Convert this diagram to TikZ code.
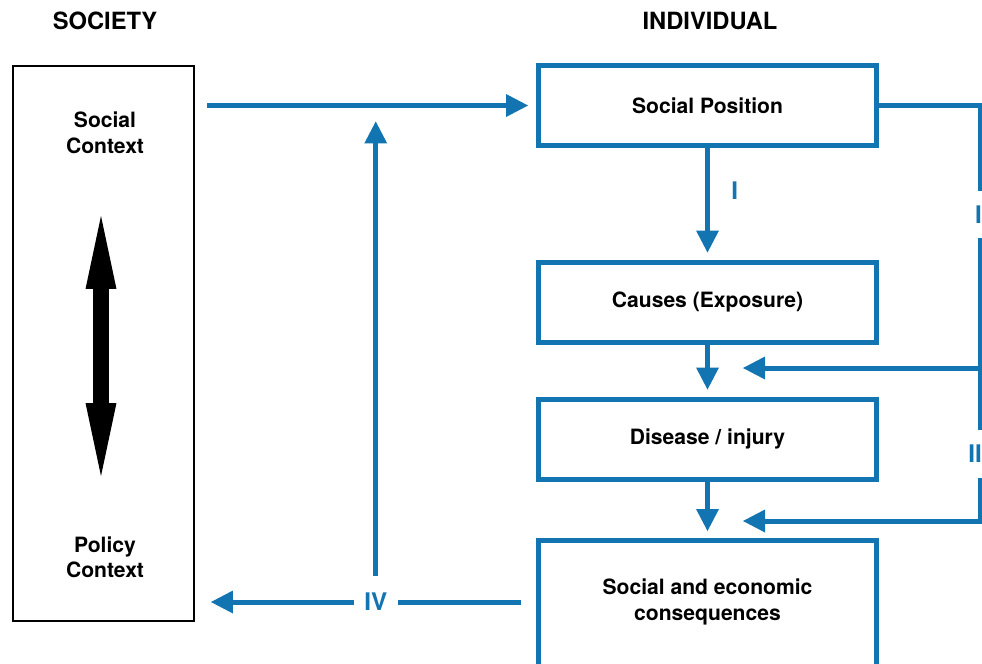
\documentclass[tikz,border=0pt]{standalone}
\usepackage{fontspec}
\setmainfont{TeX Gyre Heros}
\usetikzlibrary{arrows.meta,calc,positioning}
\definecolor{flowblue}{RGB}{18,116,176}
\tikzset{
  txt/.style={font=\fontsize{12}{14.5}\selectfont\bfseries, align=center},
  box/.style={txt, draw=flowblue, line width=0.1cm, minimum width=6.76cm, minimum height=1.6cm},
  flow/.style={draw=flowblue, line width=0.1cm, -{Triangle[length=0.44cm,width=0.46cm,line width=0pt]}},
  lbl/.style={text=flowblue, font=\fontsize{13.8}{16}\selectfont\bfseries},
  gap/.style={lbl, fill=white, inner xsep=0.21cm, inner ysep=0.3cm},
  title/.style={font=\fontsize{13.5}{16}\selectfont\bfseries}
}
\begin{document}
\begin{tikzpicture}[x=0.02cm, y=-0.02cm]
\useasboundingbox (0,0) rectangle (982,663);
\node[title] (soc) at (105,21) {SOCIETY};
\node[title] (ind) at (710,21) {INDIVIDUAL};
\node[draw, line width=0.04cm, minimum width=3.62cm, minimum height=11.1cm] (society) at (103.5,343.5) {};
\node[txt] (social) at (105,133) {Social\\Context};
\node[txt] (policy) at (105,557) {Policy\\Context};
\coordinate (up) at (101,216);
\coordinate (down) at (101,476);
\draw[line width=0.32cm, {Triangle[length=1.46cm,width=0.62cm,line width=0pt]}-{Triangle[length=1.46cm,width=0.62cm,line width=0pt]}] (up) -- (down);
\node[box] (sp) at (707.5,105.5) {Social Position};
\node[box] (causes) at (707.5,302) {Causes (Exposure)};
\node[box] (disease) at (707.5,439) {Disease / injury};
\node[box, minimum height=3.2cm, anchor=north] (cons) at (707.5,538) {};
\node[txt] (constext) at ($(cons.north)+(0,64)$) {Social and economic\\consequences};
\coordinate (rx) at (980,0);
\coordinate (in1) at (743,368);
\coordinate (in2) at (743,521);
\draw[flow, shorten >=0.14cm] (sp) -- node[lbl, pos=0.38, right=0.31cm] (i1) {I} (causes);
\draw[flow, shorten >=0.14cm] (causes) -- (disease);
\draw[flow, shorten >=0.14cm] (disease) -- (cons);
\draw[flow] (sp.east) -- (sp.east -| rx) -- node[gap, pos=0.415, xshift=-0.03cm] (i2) {I} (rx |- in1) -- (in1);
\draw[flow] (rx |- in1) -- node[gap, pos=0.56, xshift=-0.1cm] (ii) {II} (rx |- in2) -- (in2);
\draw[flow, shorten <=0.24cm, shorten >=0.16cm] (society.east |- sp.west) -- (sp.west);
\draw[flow, shorten <=0.3cm, shorten >=0.32cm] (cons.west |- constext) -- node[gap, pos=0.47] (iv) {IV} (society.east |- constext);
\draw[flow, shorten >=0.32cm] (iv) -- (iv |- sp.west);
\end{tikzpicture}
\end{document}
